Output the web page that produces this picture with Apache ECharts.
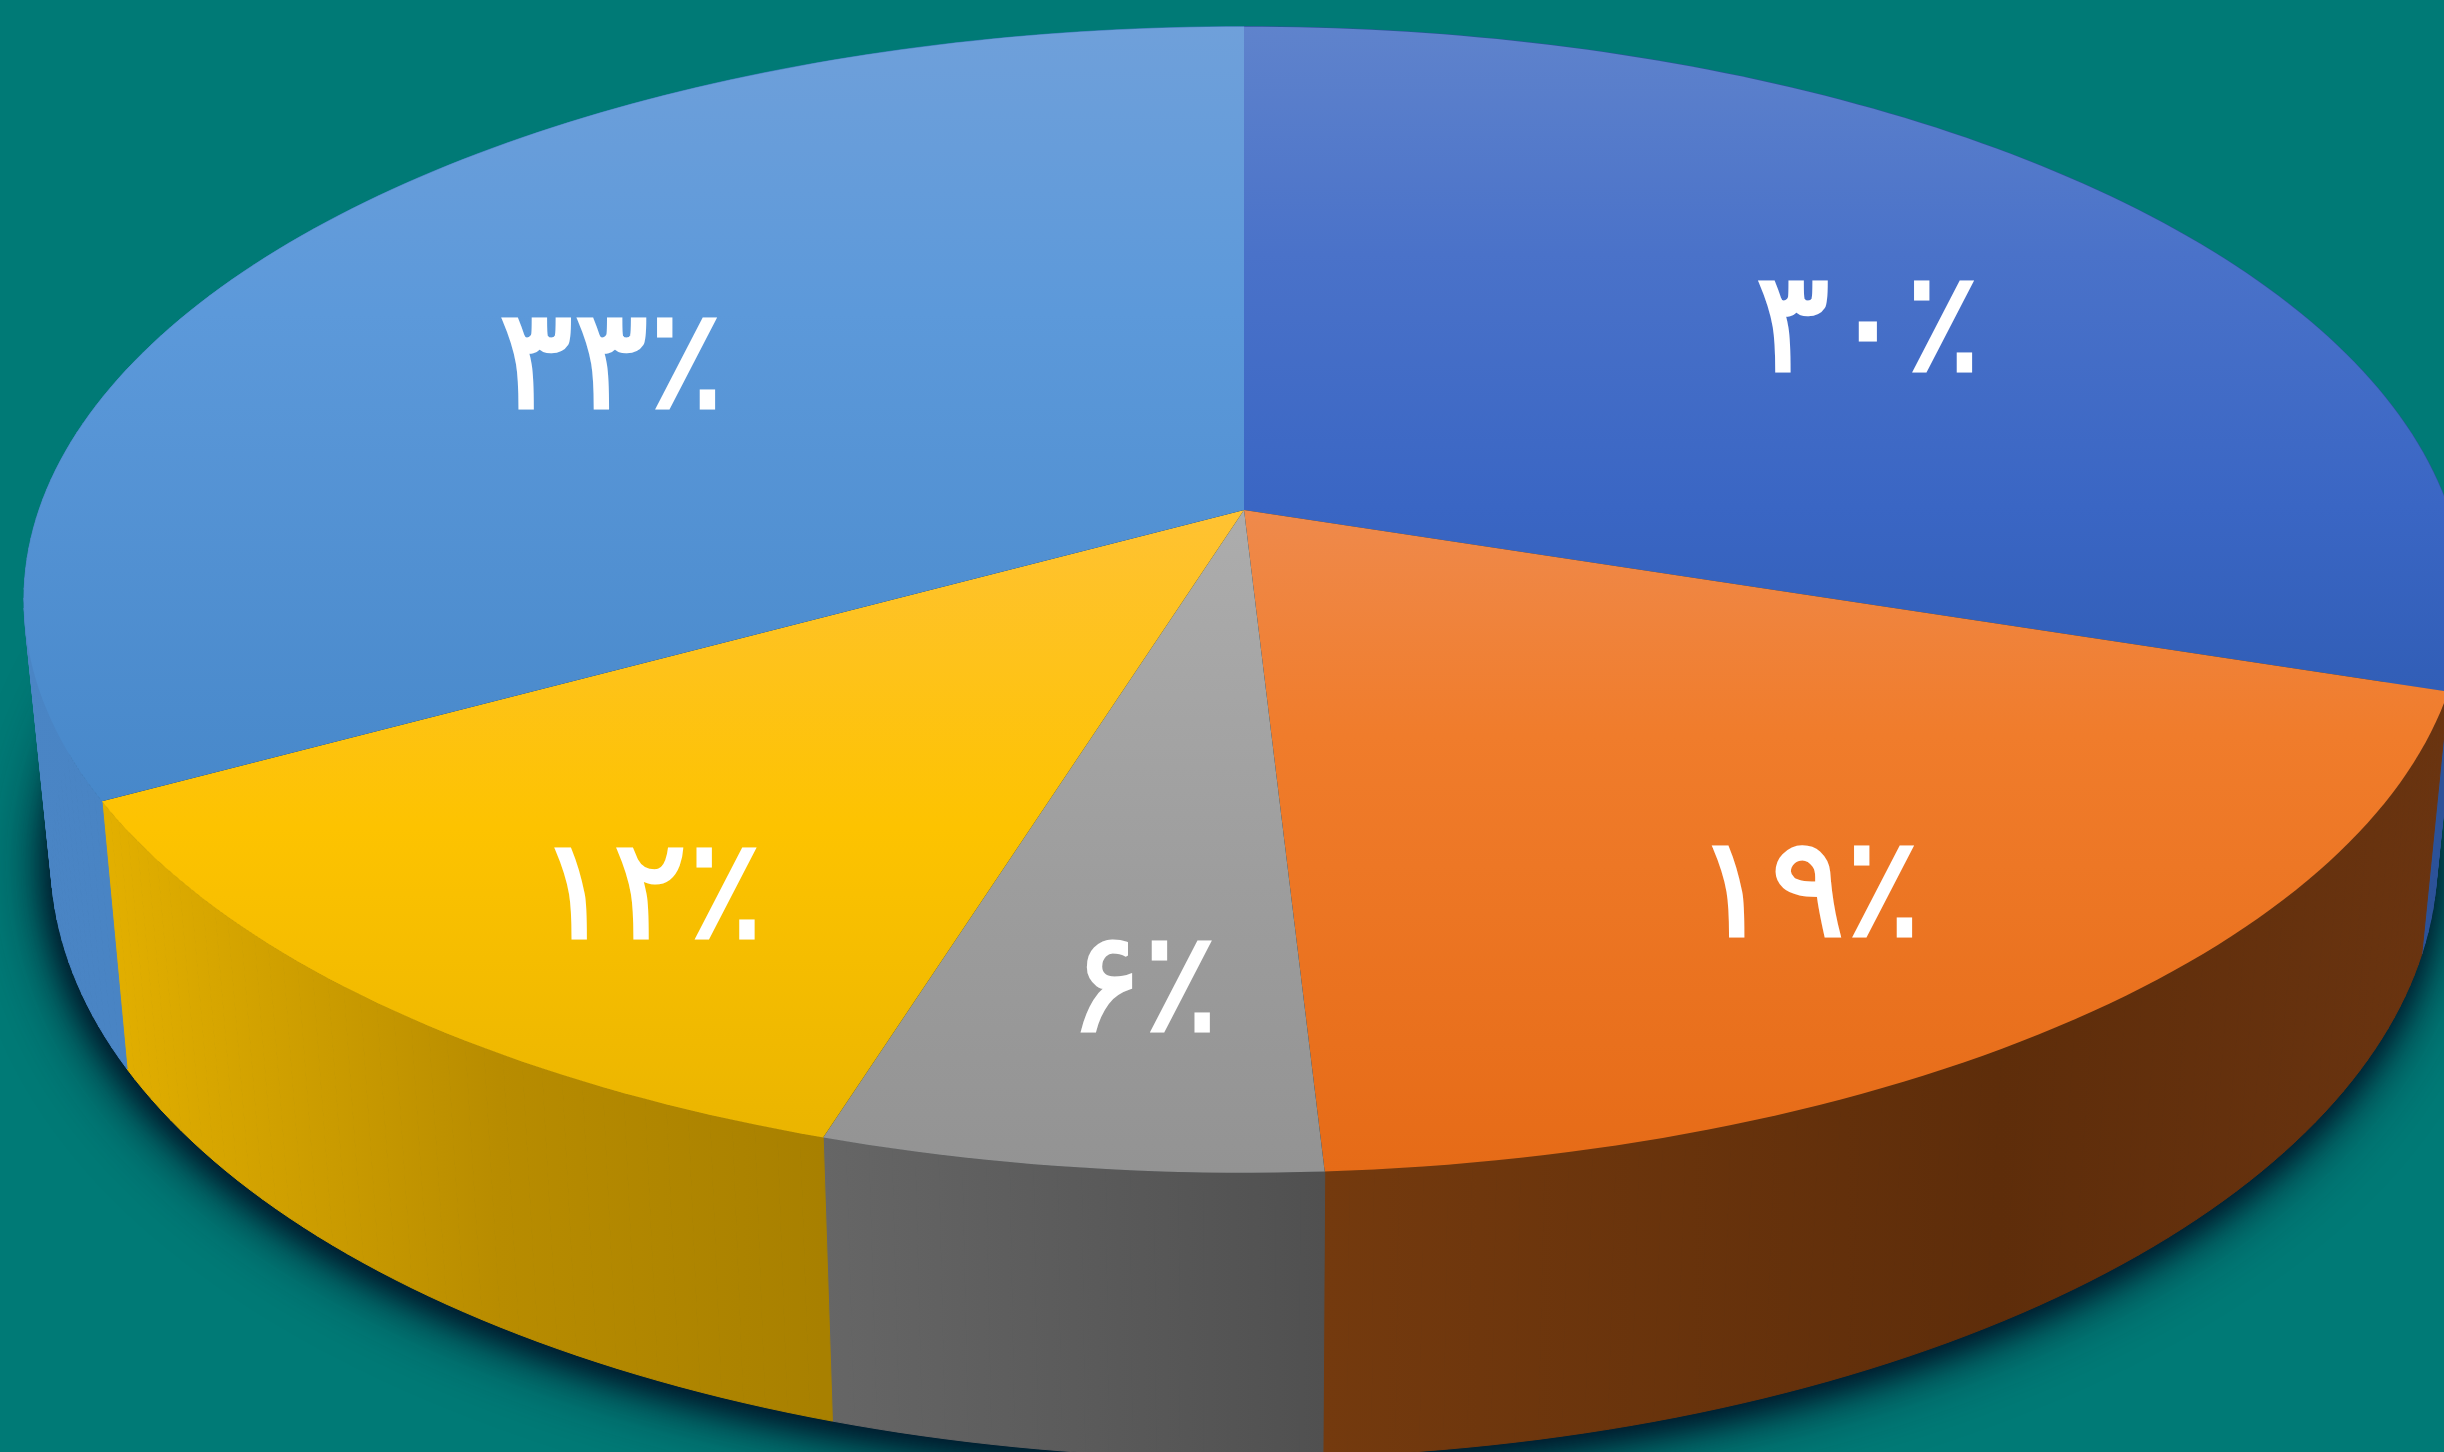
<!DOCTYPE html>
<html>
<head>
<meta charset="utf-8">
<style>html,body{margin:0;padding:0;background:#007a76;overflow:hidden}#c{width:2444px;height:1452px}</style>
<script src="https://cdn.jsdelivr.net/npm/echarts@6/dist/echarts.min.js"></script>
</head>
<body>
<div id="c"></div>
<script>
// Slices clockwise from 12 o'clock (wedge shares as measured; labels are the printed rounded figures)
const sliceValues = [30, 19.1, 5.7, 12.2, 33];
const sliceLabels = ['۳۰٪', '۱۹٪', '۶٪', '۱۲٪', '۳۳٪'];

// Styles
const topColors = [
  [[0, '#5f83cc'], [0.2, '#4a72c9'], [0.42, '#3a66c4'], [0.6, '#305db5'], [1, '#305db5']],
  [[0, '#ef8a4c'], [0.42, '#ef8a4c'], [0.62, '#f07c2b'], [1, '#e66b17']],
  [[0, '#adadad'], [0.42, '#adadad'], [0.75, '#9d9d9d'], [1, '#939393']],
  [[0, '#ffc233'], [0.42, '#ffc233'], [0.7, '#fdc300'], [1, '#e8b300']],
  [[0, '#6fa0da'], [0.25, '#5c99da'], [0.7, '#4687c9'], [1, '#4687c9']]
];
const wallColors = [
  [[0, '#2c5299'], [1, '#2c5299']],
  [[0, '#743a0e'], [0.6, '#5e2d0a'], [1, '#6a3410']],
  [[0, '#666666'], [1, '#505050']],
  [[0, '#e3b000'], [0.55, '#b88c00'], [1, '#a88000']],
  [[0, '#4a85c5'], [1, '#3c78b6']]
];
const labelRadius = [0.68, 0.70, 0.7, 0.74, 0.65];
const labelShift = [[0, 35], [0, 50], [15, 49], [26, 40], [8, 37]];
const shadowLayers = [70, 32];

// Perspective disc
const CX = 1244, CY = 510, AX = 1205, BY = 559, K = 0.1565;
const THICK = 268, THICK_GROW = 0.047, BASE_Y = 807, BOTTOM_SCALE = 0.978;
const total = sliceValues.reduce((a, b) => a + b, 0);

function rim(deg, r) {
  const t = deg * Math.PI / 180;
  const u = Math.sin(t) * r, v = Math.cos(t) * r, w = 1 + K * v;
  return [CX + AX * u / w, CY - BY * v / w];
}
function lower(p) {
  return [CX + (p[0] - CX) * BOTTOM_SCALE, p[1] + THICK + (p[1] - BASE_Y) * THICK_GROW];
}
function arc(a0, a1) {
  const n = Math.max(2, Math.ceil((a1 - a0) / 1));
  const pts = [];
  for (let i = 0; i <= n; i++) pts.push(rim(a0 + (a1 - a0) * i / n, 1));
  return pts;
}
function vGrad(stops) {
  return new echarts.graphic.LinearGradient(0, 26, 0, 1172,
    stops.map(s => ({offset: s[0], color: s[1]})), true);
}
function hGrad(stops, x0, x1) {
  return new echarts.graphic.LinearGradient(x0, 0, x1, 0,
    stops.map(s => ({offset: s[0], color: s[1]})), true);
}

const chart = echarts.init(document.getElementById('c'), null, {renderer: 'canvas', width: 2444, height: 1452});
chart.setOption({
  backgroundColor: '#007a76',
  animation: false,
  series: [
    {
      type: 'custom',
      coordinateSystem: 'none',
      silent: true,
      z: 1,
      data: shadowLayers.map(b => [b]),
      renderItem: function (params, api) {
        const ring = arc(0, 360).map(lower);
        return {
          type: 'polygon',
          shape: {points: ring},
          style: {fill: '#0b2a3a', shadowBlur: api.value(0), shadowOffsetY: 8, shadowOffsetX: -2, shadowColor: 'rgba(0,20,40,1)'}
        };
      }
    },
    {
      type: 'custom',
      coordinateSystem: 'none',
      silent: true,
      z: 2,
      data: sliceValues.map((v, i) => [v, i]),
      renderItem: function (params, api) {
        const i = api.value(1);
        const before = sliceValues.slice(0, i).reduce((a, b) => a + b, 0);
        const a0 = before / total * 360;
        const a1 = (before + api.value(0)) / total * 360;
        const mid = (a0 + a1) / 2;
        const edge = arc(a0, a1);
        const xs = edge.map(p => p[0]);
        const apex = rim(0, 0);
        const c = rim(mid, labelRadius[i]);
        const grad = hGrad(wallColors[i], Math.min.apply(null, xs), Math.max.apply(null, xs));
        const quads = [];
        for (let k = 0; k + 1 < edge.length; k++) {
          quads.push({
            type: 'polygon', z2: 1,
            shape: {points: [edge[k], edge[k + 1], lower(edge[k + 1]), lower(edge[k])]},
            style: {fill: grad, stroke: grad, lineWidth: 1}
          });
        }
        return {
          type: 'group',
          children: quads.concat([
            {
              type: 'polygon', z2: 5,
              shape: {points: [apex].concat(edge)},
              style: {fill: vGrad(topColors[i])}
            },
            {
              type: 'text', z2: 9,
              style: {
                x: c[0] + labelShift[i][0], y: c[1] + labelShift[i][1],
                text: sliceLabels[i],
                fill: '#ffffff',
                stroke: '#ffffff',
                lineWidth: 3,
                font: '140px "DejaVu Sans"',
                align: 'center',
                verticalAlign: 'middle'
              }
            }
          ])
        };
      }
    }
  ]
});
</script>
</body>
</html>
